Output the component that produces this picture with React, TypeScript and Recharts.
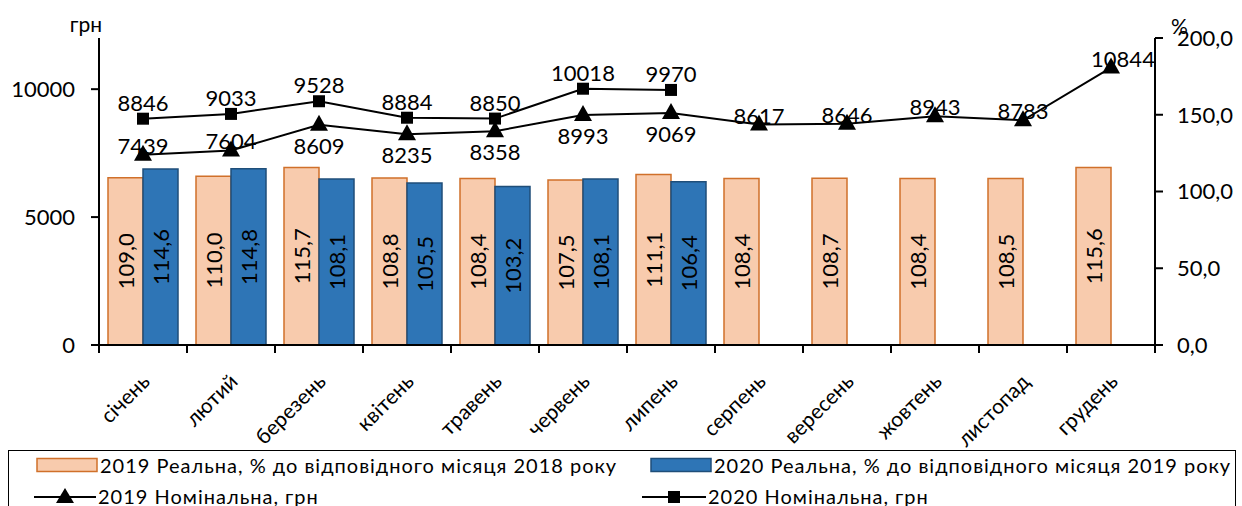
import { ComposedChart, Bar, Line, XAxis, YAxis, LabelList, Legend } from 'recharts'

const months = ['січень', 'лютий', 'березень', 'квітень', 'травень', 'червень', 'липень', 'серпень', 'вересень', 'жовтень', 'листопад', 'грудень']
const real2019 = [109.0, 110.0, 115.7, 108.8, 108.4, 107.5, 111.1, 108.4, 108.7, 108.4, 108.5, 115.6]
const real2020 = [114.6, 114.8, 108.1, 105.5, 103.2, 108.1, 106.4, null, null, null, null, null]
const nominal2019 = [7439, 7604, 8609, 8235, 8358, 8993, 9069, 8617, 8646, 8943, 8783, 10844]
const nominal2020 = [8846, 9033, 9528, 8884, 8850, 10018, 9970, null, null, null, null, null]
const leftTicks = [0, 5000, 10000]
const rightTicks = [0, 50, 100, 150, 200]

const legendNames = [
  '2019 Реальна, % до відповідного місяця 2018 року',
  '2020 Реальна, % до відповідного місяця 2019 року',
  '2019 Номінальна, грн',
  '2020 Номінальна, грн',
]

const data = months.map((m, i) => ({
  month: m,
  r2019: real2019[i],
  r2020: real2020[i],
  n2019: nominal2019[i],
  n2020: nominal2020[i],
}))

const FONT = 'Lato, "Noto Sans", sans-serif'
const W = 1242
const H = 506
const M = { top: 38, right: 7, bottom: 71, left: 19 }
const AXIS_W = 80
const BAND = (W - M.left - M.right - 2 * AXIS_W) / months.length

const comma = (v: number) => v.toFixed(1).replace('.', ',')

function MonthTick(props: any) {
  const { x, y, payload, index } = props
  const left = x - BAND / 2
  const tx = x + 8
  const ty = y + 38
  return (
    <g>
      <line x1={left} y1={y} x2={left} y2={y + 8} stroke="#000" strokeWidth={2} />
      {index === months.length - 1 && (
        <line x1={x + BAND / 2} y1={y} x2={x + BAND / 2} y2={y + 8} stroke="#000" strokeWidth={2} />
      )}
      <text
        x={tx}
        y={ty}
        textAnchor="end"
        fontSize={21}
        fontFamily={FONT}
        fill="#000"
        transform={`rotate(-45 ${tx} ${ty})`}
      >
        {payload.value}
      </text>
    </g>
  )
}

function Triangle(props: any) {
  const { cx, cy, index } = props
  if (cx == null || cy == null) return <g key={`t${index}`} />
  return <path key={`t${index}`} d={`M${cx},${cy - 10} L${cx + 9},${cy + 6} L${cx - 9},${cy + 6} Z`} fill="#000" />
}

function Square(props: any) {
  const { cx, cy, index } = props
  if (cx == null || cy == null) return <g key={`s${index}`} />
  return <rect key={`s${index}`} x={cx - 6} y={cy - 6} width={12} height={12} fill="#000" />
}

// 2019 labels go under the point when the 2020 line is close above it
function Label2019(props: any) {
  const { x, y, value, index } = props
  if (value == null) return null
  const other = nominal2020[index]
  const below = other != null && other - value < 1200
  return (
    <text
      x={index === months.length - 1 ? x + 12 : x}
      y={below ? y + 29 : y - 1}
      textAnchor="middle"
      fontSize={22}
      fontFamily={FONT}
      fill="#000"
    >
      {value}
    </text>
  )
}

function Label2020(props: any) {
  const { x, y, value } = props
  if (value == null) return null
  return (
    <text x={x} y={y - 8} textAnchor="middle" fontSize={22} fontFamily={FONT} fill="#000">
      {value}
    </text>
  )
}

function BarLabel(props: any) {
  const { x, y, width, height, value } = props
  if (value == null) return null
  const cx = x + width / 2
  const cy = y + height / 2
  return (
    <text
      x={cx}
      y={cy}
      textAnchor="middle"
      dominantBaseline="central"
      fontSize={22}
      fontFamily={FONT}
      fill="#000"
      transform={`rotate(-90, ${cx}, ${cy})`}
    >
      {comma(value)}
    </text>
  )
}

function LegendBox() {
  const item = (left: number, top: number, icon: any, name: string) => (
    <div style={{ position: 'absolute', left, top, height: 24, display: 'flex', alignItems: 'center', whiteSpace: 'nowrap' }}>
      {icon}
      <span style={{ marginLeft: 2, lineHeight: '24px' }}>{name}</span>
    </div>
  )
  return (
    <div
      style={{
        position: 'relative',
        width: 1228,
        height: 70,
        border: '1.5px solid #000',
        boxSizing: 'border-box',
        fontFamily: FONT,
        fontSize: 20,
        letterSpacing: 1,
        color: '#000',
        background: '#fff',
      }}
    >
      {item(27, 2, (
        <svg width={62} height={16}><rect x={1} y={1.5} width={60} height={13} fill="#F8CBAD" stroke="#D0702A" strokeWidth={1.5} /></svg>
      ), legendNames[0])}
      {item(641, 2, (
        <svg width={62} height={16}><rect x={1} y={1.5} width={60} height={13} fill="#2E75B6" stroke="#1F4E79" strokeWidth={1.5} /></svg>
      ), legendNames[1])}
      {item(25, 33, (
        <svg width={62} height={20}><line x1={0} y1={11} x2={62} y2={11} stroke="#000" strokeWidth={2} /><path d="M31,2 L40,17 L22,17 Z" fill="#000" /></svg>
      ), legendNames[2])}
      {item(633, 33, (
        <svg width={64} height={20}><line x1={0} y1={11} x2={64} y2={11} stroke="#000" strokeWidth={2} /><rect x={26} y={5} width={12} height={12} fill="#000" /></svg>
      ), legendNames[3])}
    </div>
  )
}

export default function App() {
  return (
    <div style={{ position: 'absolute', left: 0, top: 0, width: W, height: H, background: '#fff', overflow: 'hidden' }}>
      <ComposedChart width={W} height={H} data={data} margin={M} barGap={0}>
        <XAxis
          dataKey="month"
          xAxisId="x"
          interval={0}
          tickSize={0}
          tickMargin={0}
          height={90}
          tick={<MonthTick />}
          axisLine={{ stroke: '#000', strokeWidth: 2 }}
          tickLine={false}
        />
        <YAxis
          yAxisId="left"
          width={AXIS_W}
          domain={[0, 12000]}
          ticks={leftTicks}
          tickSize={8}
          tickMargin={16}
          axisLine={{ stroke: '#000', strokeWidth: 2 }}
          tickLine={{ stroke: '#000', strokeWidth: 2 }}
          tick={{ fill: '#000', fontSize: 22, fontFamily: FONT }}
          label={{
            value: 'грн',
            content: () => (
              <text x={102} y={32} textAnchor="end" fontSize={21} fontFamily={FONT} fill="#000">грн</text>
            ),
          }}
        />
        <YAxis
          yAxisId="right"
          orientation="right"
          width={AXIS_W}
          domain={[0, 200]}
          ticks={rightTicks}
          tickFormatter={comma}
          tickSize={8}
          tickMargin={14}
          axisLine={{ stroke: '#000', strokeWidth: 2 }}
          tickLine={{ stroke: '#000', strokeWidth: 2 }}
          tick={{ fill: '#000', fontSize: 22, fontFamily: FONT }}
          label={{
            value: '%',
            content: () => (
              <text x={1171} y={34} textAnchor="start" fontSize={21} fontFamily={FONT} fill="#000">%</text>
            ),
          }}
        />
        <Bar xAxisId="x" yAxisId="right" dataKey="r2019" name={legendNames[0]} barSize={35} fill="#F8CBAD" stroke="#D0702A" strokeWidth={1.5} isAnimationActive={false}>
          <LabelList dataKey="r2019" content={<BarLabel />} />
        </Bar>
        <Bar xAxisId="x" yAxisId="right" dataKey="r2020" name={legendNames[1]} barSize={35} fill="#2E75B6" stroke="#1F4E79" strokeWidth={1.5} isAnimationActive={false}>
          <LabelList dataKey="r2020" content={<BarLabel />} />
        </Bar>
        <Line xAxisId="x" yAxisId="left" type="linear" dataKey="n2019" name={legendNames[2]} stroke="#000" strokeWidth={2} dot={Triangle} activeDot={false} isAnimationActive={false}>
          <LabelList dataKey="n2019" content={<Label2019 />} />
        </Line>
        <Line xAxisId="x" yAxisId="left" type="linear" dataKey="n2020" name={legendNames[3]} stroke="#000" strokeWidth={2} dot={Square} activeDot={false} isAnimationActive={false}>
          <LabelList dataKey="n2020" content={<Label2020 />} />
        </Line>
        <Legend
          layout="horizontal"
          verticalAlign="middle"
          align="center"
          wrapperStyle={{ left: 8, top: 450, width: 1228 }}
          content={<LegendBox />}
        />
      </ComposedChart>
    </div>
  )
}
